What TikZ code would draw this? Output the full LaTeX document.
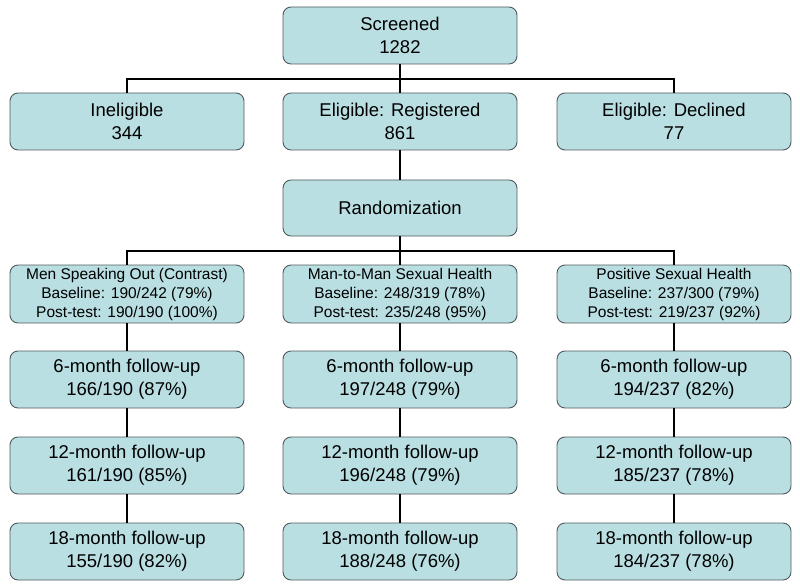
\documentclass[tikz,border=0pt]{standalone}
\usepackage{fontspec}
\setmainfont{Liberation Sans}
\definecolor{boxfill}{RGB}{186,223,226}
\definecolor{boxline}{RGB}{80,90,92}
\begin{document}
\begin{tikzpicture}[x=1pt,y=-1pt,
  box/.style={draw=boxline, line width=0.9pt, fill=boxfill, rounded corners=8pt,
    minimum width=234pt, minimum height=57pt, align=center, inner sep=0pt,
    font=\fontsize{18.5}{23}\selectfont},
  armbox/.style={box, minimum height=58pt, font=\fontsize{15.5}{19}\selectfont},
  conn/.style={draw=black, line width=2pt}]
\useasboundingbox (0,0) rectangle (800,588);
% nodes
\node[box] (scr) at (400,35.5) {Screened\\1282};
\node[box] (inel) at (127,121.5) {Ineligible\\344};
\node[box] (reg) at (400,121.5) {Eligible: Registered\\861};
\node[box] (decl) at (674,121.5) {Eligible: Declined\\77};
\node[box, minimum height=56pt] (rand) at (400,208) {Randomization};
\node[armbox] (a1) at (127,294) {Men Speaking Out (Contrast)\\Baseline: 190/242 (79\%)\\Post-test: 190/190 (100\%)};
\node[armbox] (a2) at (400,294) {Man-to-Man Sexual Health\\Baseline: 248/319 (78\%)\\Post-test: 235/248 (95\%)};
\node[armbox] (a3) at (674,294) {Positive Sexual Health\\Baseline: 237/300 (79\%)\\Post-test: 219/237 (92\%)};
\node[box] (f6a) at (127,379.5) {6-month follow-up\\166/190 (87\%)};
\node[box] (f6b) at (400,379.5) {6-month follow-up\\197/248 (79\%)};
\node[box] (f6c) at (674,379.5) {6-month follow-up\\194/237 (82\%)};
\node[box] (f12a) at (127,465.5) {12-month follow-up\\161/190 (85\%)};
\node[box] (f12b) at (400,465.5) {12-month follow-up\\196/248 (79\%)};
\node[box] (f12c) at (674,465.5) {12-month follow-up\\185/237 (78\%)};
\node[box] (f18a) at (127,551.5) {18-month follow-up\\155/190 (82\%)};
\node[box] (f18b) at (400,551.5) {18-month follow-up\\188/248 (76\%)};
\node[box] (f18c) at (674,551.5) {18-month follow-up\\184/237 (78\%)};
\coordinate (s1) at (400,79);
\coordinate (s2) at (400,251);
% connectors
\begin{scope}[on background layer/.style={}]
\draw[conn] (scr.south) -- (reg.north);
\draw[conn] (inel.north) |- (s1) -| (decl.north);
\draw[conn] (reg.south) -- (rand.north);
\draw[conn] (rand.south) -- (a2.north);
\draw[conn] (a1.north) |- (s2) -| (a3.north);
\draw[conn] (a1.south) -- (f6a.north);
\draw[conn] (a2.south) -- (f6b.north);
\draw[conn] (a3.south) -- (f6c.north);
\draw[conn] (f6a.south) -- (f12a.north);
\draw[conn] (f6b.south) -- (f12b.north);
\draw[conn] (f6c.south) -- (f12c.north);
\draw[conn] (f12a.south) -- (f18a.north);
\draw[conn] (f12b.south) -- (f18b.north);
\draw[conn] (f12c.south) -- (f18c.north);
\end{scope}
\end{tikzpicture}
\end{document}
